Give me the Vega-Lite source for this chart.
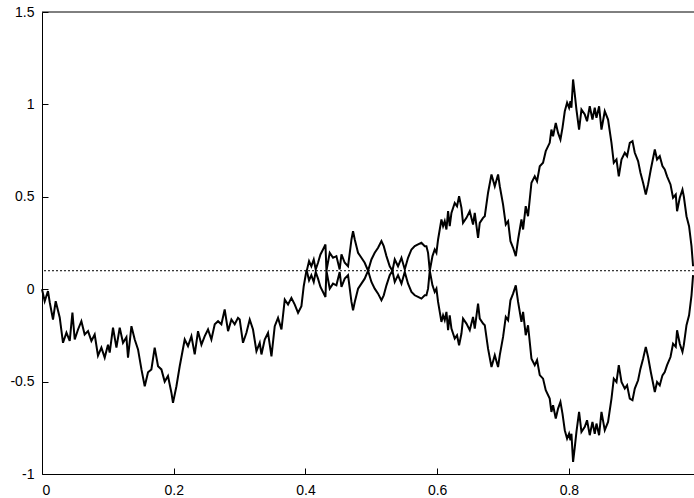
{
  "$schema": "https://vega.github.io/schema/vega-lite/v6.json",
  "width": 652,
  "height": 462,
  "autosize": {"type": "none"},
  "padding": {"left": 42, "top": 12, "right": 0, "bottom": 24},
  "background": "white",
  "config": {
    "view": {"stroke": null},
    "font": "Liberation Sans",
    "axis": {
      "grid": false,
      "domainColor": "black",
      "tickColor": "black",
      "labelColor": "black",
      "labelFont": "Liberation Sans",
      "labelFontSize": 14,
      "title": null,
      "tickSize": -6,
      "domainWidth": 1,
      "tickWidth": 1
    }
  },
  "data": {
    "values": [
      {"x": 0, "a": 0},
      {"x": 0.0041, "a": -0.065},
      {"x": 0.0091, "a": -0.01},
      {"x": 0.0117, "a": -0.07},
      {"x": 0.0167, "a": -0.164},
      {"x": 0.0208, "a": -0.065},
      {"x": 0.0269, "a": -0.153},
      {"x": 0.0319, "a": -0.29},
      {"x": 0.0371, "a": -0.235},
      {"x": 0.0421, "a": -0.28},
      {"x": 0.0462, "a": -0.126},
      {"x": 0.0497, "a": -0.272},
      {"x": 0.0547, "a": -0.218},
      {"x": 0.0598, "a": -0.173},
      {"x": 0.0648, "a": -0.245},
      {"x": 0.0699, "a": -0.227},
      {"x": 0.075, "a": -0.28},
      {"x": 0.08, "a": -0.245},
      {"x": 0.085, "a": -0.36},
      {"x": 0.0902, "a": -0.316},
      {"x": 0.0952, "a": -0.37},
      {"x": 0.1002, "a": -0.3},
      {"x": 0.1028, "a": -0.343},
      {"x": 0.1078, "a": -0.208},
      {"x": 0.113, "a": -0.316},
      {"x": 0.118, "a": -0.208},
      {"x": 0.123, "a": -0.29},
      {"x": 0.1282, "a": -0.26},
      {"x": 0.1306, "a": -0.37},
      {"x": 0.1358, "a": -0.2},
      {"x": 0.1408, "a": -0.272},
      {"x": 0.1458, "a": -0.326},
      {"x": 0.151, "a": -0.434},
      {"x": 0.156, "a": -0.525},
      {"x": 0.161, "a": -0.45},
      {"x": 0.1661, "a": -0.434},
      {"x": 0.1711, "a": -0.316},
      {"x": 0.1762, "a": -0.417},
      {"x": 0.1813, "a": -0.434},
      {"x": 0.1863, "a": -0.5},
      {"x": 0.1913, "a": -0.47},
      {"x": 0.1965, "a": -0.56},
      {"x": 0.1989, "a": -0.615},
      {"x": 0.2041, "a": -0.525},
      {"x": 0.2091, "a": -0.417},
      {"x": 0.2167, "a": -0.272},
      {"x": 0.2217, "a": -0.308},
      {"x": 0.2269, "a": -0.254},
      {"x": 0.2319, "a": -0.353},
      {"x": 0.2369, "a": -0.227},
      {"x": 0.2421, "a": -0.3},
      {"x": 0.2471, "a": -0.254},
      {"x": 0.2521, "a": -0.218},
      {"x": 0.2572, "a": -0.272},
      {"x": 0.2623, "a": -0.19},
      {"x": 0.2673, "a": -0.173},
      {"x": 0.2724, "a": -0.19},
      {"x": 0.2774, "a": -0.11},
      {"x": 0.2825, "a": -0.227},
      {"x": 0.2876, "a": -0.164},
      {"x": 0.2926, "a": -0.19},
      {"x": 0.2976, "a": -0.155},
      {"x": 0.3002, "a": -0.164},
      {"x": 0.3052, "a": -0.29},
      {"x": 0.3104, "a": -0.236},
      {"x": 0.3154, "a": -0.164},
      {"x": 0.3204, "a": -0.218},
      {"x": 0.3256, "a": -0.335},
      {"x": 0.3306, "a": -0.29},
      {"x": 0.3332, "a": -0.353},
      {"x": 0.3382, "a": -0.272},
      {"x": 0.3432, "a": -0.236},
      {"x": 0.3484, "a": -0.363},
      {"x": 0.3534, "a": -0.2},
      {"x": 0.3584, "a": -0.155},
      {"x": 0.3636, "a": -0.218},
      {"x": 0.3686, "a": -0.056},
      {"x": 0.3736, "a": -0.083},
      {"x": 0.3787, "a": -0.047},
      {"x": 0.3838, "a": -0.083},
      {"x": 0.3888, "a": -0.128},
      {"x": 0.3939, "a": -0.092},
      {"x": 0.3974, "a": 0.016},
      {"x": 0.4015, "a": 0.1, "b": 0.1},
      {"x": 0.4025, "a": 0.107, "b": 0.093},
      {"x": 0.4055, "a": 0.152, "b": 0.048},
      {"x": 0.409, "a": 0.124, "b": 0.076},
      {"x": 0.4126, "a": 0.161, "b": 0.039},
      {"x": 0.4156, "a": 0.107, "b": 0.093},
      {"x": 0.4191, "a": 0.143, "b": 0.057},
      {"x": 0.4228, "a": 0.188, "b": 0.012},
      {"x": 0.4267, "a": 0.215, "b": -0.015},
      {"x": 0.4304, "a": 0.242, "b": -0.042},
      {"x": 0.4319, "a": 0.1, "b": 0.1},
      {"x": 0.4369, "a": 0.197, "b": 0.003},
      {"x": 0.4419, "a": 0.17, "b": 0.03},
      {"x": 0.447, "a": 0.179, "b": 0.021},
      {"x": 0.452, "a": 0.107, "b": 0.093},
      {"x": 0.4547, "a": 0.188, "b": 0.012},
      {"x": 0.4597, "a": 0.143, "b": 0.057},
      {"x": 0.4647, "a": 0.124, "b": 0.076},
      {"x": 0.4699, "a": 0.269, "b": -0.069},
      {"x": 0.4723, "a": 0.314, "b": -0.114},
      {"x": 0.4749, "a": 0.269, "b": -0.069},
      {"x": 0.4799, "a": 0.197, "b": 0.003},
      {"x": 0.485, "a": 0.17, "b": 0.03},
      {"x": 0.49, "a": 0.143, "b": 0.057},
      {"x": 0.4951, "a": 0.1, "b": 0.1},
      {"x": 0.5002, "a": 0.161, "b": 0.039},
      {"x": 0.5052, "a": 0.197, "b": 0.003},
      {"x": 0.5103, "a": 0.224, "b": -0.024},
      {"x": 0.5154, "a": 0.26, "b": -0.06},
      {"x": 0.5189, "a": 0.233, "b": -0.033},
      {"x": 0.523, "a": 0.179, "b": 0.021},
      {"x": 0.528, "a": 0.124, "b": 0.076},
      {"x": 0.5321, "a": 0.1, "b": 0.1},
      {"x": 0.5356, "a": 0.161, "b": 0.039},
      {"x": 0.5406, "a": 0.124, "b": 0.076},
      {"x": 0.5458, "a": 0.17, "b": 0.03},
      {"x": 0.5508, "a": 0.107, "b": 0.093},
      {"x": 0.5558, "a": 0.17, "b": 0.03},
      {"x": 0.561, "a": 0.215, "b": -0.015},
      {"x": 0.566, "a": 0.233, "b": -0.033},
      {"x": 0.571, "a": 0.242, "b": -0.042},
      {"x": 0.5761, "a": 0.251, "b": -0.051},
      {"x": 0.5812, "a": 0.233, "b": -0.033},
      {"x": 0.5837, "a": 0.233, "b": -0.033},
      {"x": 0.5862, "a": 0.197, "b": 0.003},
      {"x": 0.5888, "a": 0.1, "b": 0.1},
      {"x": 0.5929, "a": 0.179, "b": 0.021},
      {"x": 0.5963, "a": 0.215, "b": -0.015},
      {"x": 0.5989, "a": 0.197, "b": 0.003},
      {"x": 0.6014, "a": 0.269, "b": -0.069},
      {"x": 0.6065, "a": 0.377, "b": -0.177},
      {"x": 0.609, "a": 0.341, "b": -0.141},
      {"x": 0.6115, "a": 0.368, "b": -0.168},
      {"x": 0.6141, "a": 0.323, "b": -0.123},
      {"x": 0.6166, "a": 0.422, "b": -0.222},
      {"x": 0.6191, "a": 0.341, "b": -0.141},
      {"x": 0.6217, "a": 0.413, "b": -0.213},
      {"x": 0.6267, "a": 0.467, "b": -0.267},
      {"x": 0.6302, "a": 0.449, "b": -0.249},
      {"x": 0.6333, "a": 0.503, "b": -0.303},
      {"x": 0.6369, "a": 0.44, "b": -0.24},
      {"x": 0.6393, "a": 0.359, "b": -0.159},
      {"x": 0.6445, "a": 0.386, "b": -0.186},
      {"x": 0.6495, "a": 0.422, "b": -0.222},
      {"x": 0.6545, "a": 0.35, "b": -0.15},
      {"x": 0.6571, "a": 0.413, "b": -0.213},
      {"x": 0.6621, "a": 0.278, "b": -0.078},
      {"x": 0.6647, "a": 0.359, "b": -0.159},
      {"x": 0.6697, "a": 0.386, "b": -0.186},
      {"x": 0.6723, "a": 0.395, "b": -0.195},
      {"x": 0.6773, "a": 0.522, "b": -0.322},
      {"x": 0.6825, "a": 0.621, "b": -0.421},
      {"x": 0.6875, "a": 0.557, "b": -0.357},
      {"x": 0.6925, "a": 0.621, "b": -0.421},
      {"x": 0.6951, "a": 0.557, "b": -0.357},
      {"x": 0.7001, "a": 0.458, "b": -0.258},
      {"x": 0.7042, "a": 0.35, "b": -0.15},
      {"x": 0.7077, "a": 0.368, "b": -0.168},
      {"x": 0.7113, "a": 0.26, "b": -0.06},
      {"x": 0.7153, "a": 0.224, "b": -0.024},
      {"x": 0.7194, "a": 0.179, "b": 0.021},
      {"x": 0.7229, "a": 0.269, "b": -0.069},
      {"x": 0.728, "a": 0.377, "b": -0.177},
      {"x": 0.7305, "a": 0.323, "b": -0.123},
      {"x": 0.7345, "a": 0.449, "b": -0.249},
      {"x": 0.738, "a": 0.395, "b": -0.195},
      {"x": 0.7432, "a": 0.576, "b": -0.376},
      {"x": 0.7482, "a": 0.611, "b": -0.411},
      {"x": 0.7517, "a": 0.584, "b": -0.384},
      {"x": 0.7558, "a": 0.665, "b": -0.465},
      {"x": 0.7608, "a": 0.684, "b": -0.484},
      {"x": 0.7649, "a": 0.747, "b": -0.547},
      {"x": 0.7709, "a": 0.792, "b": -0.592},
      {"x": 0.7735, "a": 0.864, "b": -0.664},
      {"x": 0.776, "a": 0.828, "b": -0.628},
      {"x": 0.7801, "a": 0.9, "b": -0.7},
      {"x": 0.7836, "a": 0.846, "b": -0.646},
      {"x": 0.7872, "a": 0.81, "b": -0.61},
      {"x": 0.7903, "a": 0.873, "b": -0.673},
      {"x": 0.7938, "a": 0.963, "b": -0.763},
      {"x": 0.7973, "a": 1.009, "b": -0.809},
      {"x": 0.8003, "a": 0.982, "b": -0.782},
      {"x": 0.8024, "a": 1.017, "b": -0.817},
      {"x": 0.8039, "a": 0.982, "b": -0.782},
      {"x": 0.8064, "a": 1.135, "b": -0.935},
      {"x": 0.809, "a": 1.054, "b": -0.854},
      {"x": 0.8115, "a": 0.972, "b": -0.772},
      {"x": 0.8155, "a": 0.864, "b": -0.664},
      {"x": 0.8191, "a": 0.972, "b": -0.772},
      {"x": 0.8242, "a": 0.945, "b": -0.745},
      {"x": 0.8276, "a": 0.909, "b": -0.709},
      {"x": 0.8317, "a": 0.99, "b": -0.79},
      {"x": 0.8358, "a": 0.918, "b": -0.718},
      {"x": 0.8393, "a": 0.982, "b": -0.782},
      {"x": 0.8419, "a": 0.927, "b": -0.727},
      {"x": 0.8459, "a": 0.99, "b": -0.79},
      {"x": 0.8495, "a": 0.864, "b": -0.664},
      {"x": 0.8545, "a": 0.963, "b": -0.763},
      {"x": 0.8595, "a": 0.918, "b": -0.718},
      {"x": 0.8647, "a": 0.792, "b": -0.592},
      {"x": 0.8682, "a": 0.684, "b": -0.484},
      {"x": 0.8723, "a": 0.702, "b": -0.502},
      {"x": 0.8758, "a": 0.611, "b": -0.411},
      {"x": 0.8799, "a": 0.702, "b": -0.502},
      {"x": 0.8849, "a": 0.738, "b": -0.538},
      {"x": 0.8884, "a": 0.72, "b": -0.52},
      {"x": 0.8925, "a": 0.792, "b": -0.592},
      {"x": 0.8966, "a": 0.801, "b": -0.601},
      {"x": 0.9001, "a": 0.738, "b": -0.538},
      {"x": 0.9051, "a": 0.693, "b": -0.493},
      {"x": 0.9087, "a": 0.63, "b": -0.43},
      {"x": 0.9127, "a": 0.576, "b": -0.376},
      {"x": 0.9168, "a": 0.512, "b": -0.312},
      {"x": 0.9203, "a": 0.567, "b": -0.367},
      {"x": 0.9244, "a": 0.648, "b": -0.448},
      {"x": 0.9305, "a": 0.756, "b": -0.556},
      {"x": 0.9339, "a": 0.702, "b": -0.502},
      {"x": 0.938, "a": 0.72, "b": -0.52},
      {"x": 0.9421, "a": 0.666, "b": -0.466},
      {"x": 0.9456, "a": 0.648, "b": -0.448},
      {"x": 0.9491, "a": 0.611, "b": -0.411},
      {"x": 0.9543, "a": 0.567, "b": -0.367},
      {"x": 0.9582, "a": 0.495, "b": -0.295},
      {"x": 0.9623, "a": 0.512, "b": -0.312},
      {"x": 0.9643, "a": 0.422, "b": -0.222},
      {"x": 0.9684, "a": 0.495, "b": -0.295},
      {"x": 0.9725, "a": 0.539, "b": -0.339},
      {"x": 0.9745, "a": 0.503, "b": -0.303},
      {"x": 0.9786, "a": 0.395, "b": -0.195},
      {"x": 0.9825, "a": 0.341, "b": -0.141},
      {"x": 0.9862, "a": 0.233, "b": -0.033},
      {"x": 0.9886, "a": 0.124, "b": 0.076}
    ]
  },
  "layer": [
    {
      "data": {"values": [{"level": 0.1}]},
      "mark": {"type": "rule", "color": "black", "strokeWidth": 1, "strokeDash": [2, 2]},
      "encoding": {"y": {"field": "level", "type": "quantitative", "scale": {"domain": [-1, 1.5], "nice": false, "zero": false}}}
    },
    {
      "data": {"values": [{"level": 1.5}]},
      "mark": {"type": "rule", "color": "black", "strokeWidth": 1},
      "encoding": {"y": {"field": "level", "type": "quantitative"}}
    },
    {
      "mark": {"type": "line", "color": "black", "strokeWidth": 2, "strokeJoin": "miter"},
      "encoding": {
        "x": {
          "field": "x", "type": "quantitative",
          "scale": {"domain": [0, 0.99], "nice": false, "zero": false},
          "axis": {"values": [0, 0.2, 0.4, 0.6, 0.8], "labelExpr": "'' + datum.value", "labelPadding": 15}
        },
        "y": {
          "field": "a", "type": "quantitative",
          "axis": {"values": [-1, -0.5, 0, 0.5, 1, 1.5], "labelExpr": "'' + datum.value", "labelPadding": 14}
        }
      }
    },
    {
      "mark": {"type": "line", "color": "black", "strokeWidth": 2, "strokeJoin": "miter"},
      "encoding": {
        "x": {"field": "x", "type": "quantitative"},
        "y": {"field": "b", "type": "quantitative"}
      }
    }
  ]
}
